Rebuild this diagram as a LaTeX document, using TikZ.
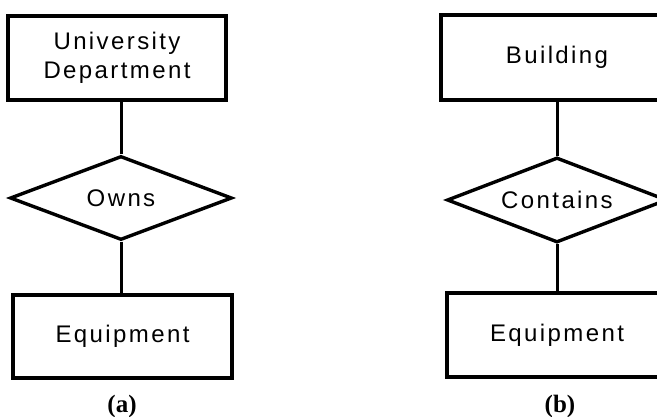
\documentclass[tikz,border=0pt]{standalone}
\usepackage{fontspec}
\setmainfont{Liberation Serif}
\newfontfamily\erfont[LetterSpace=10]{Liberation Sans}
\usetikzlibrary{shapes.geometric}

\tikzset{
  entity/.style={draw, line width=3.2pt, rectangle, inner sep=0pt,
    font=\erfont\fontsize{24}{29}\selectfont, align=center},
  relation/.style={draw, line width=3.4pt, diamond, inner sep=0pt, aspect=2.6,
    font=\erfont\fontsize{24}{29}\selectfont},
  link/.style={line width=3pt},
  caption/.style={font=\bfseries\fontsize{25}{28}\selectfont, inner sep=0pt}
}

\begin{document}
\begin{tikzpicture}[x=1pt,y=-1pt]
  \useasboundingbox (0,0) rectangle (657,417);
  \fill[white] (0,0) rectangle (657,417);
  \clip (0,0) rectangle (657,417);

  % (a) University Department owns Equipment
  \node[entity, minimum width=218pt, minimum height=84pt] (dept) at (117,58)
    {University\\Department};
  \node[relation, minimum width=222pt, minimum height=84pt] (owns) at (121,198) {Owns};
  \node[entity, minimum width=219pt, minimum height=83pt] (equipA) at (122.5,336.5) {Equipment};
  \draw[link] (owns.north) -- (owns.north |- dept.south);
  \draw[link] (owns.south) -- (owns.south |- equipA.north);
  \node[caption] (capA) at (122,406) {(a)};

  % (b) Building contains Equipment
  \node[entity, minimum width=232pt, minimum height=85pt] (bldg) at (557,57.5) {Building};
  \node[relation, minimum width=220pt, minimum height=85pt] (contains) at (557,200) {Contains};
  \node[entity, minimum width=220pt, minimum height=84pt] (equipB) at (557,335) {Equipment};
  \draw[link] (contains.north) -- (contains.north |- bldg.south);
  \draw[link] (contains.south) -- (contains.south |- equipB.north);
  \node[caption] (capB) at (560,406) {(b)};
\end{tikzpicture}
\end{document}
